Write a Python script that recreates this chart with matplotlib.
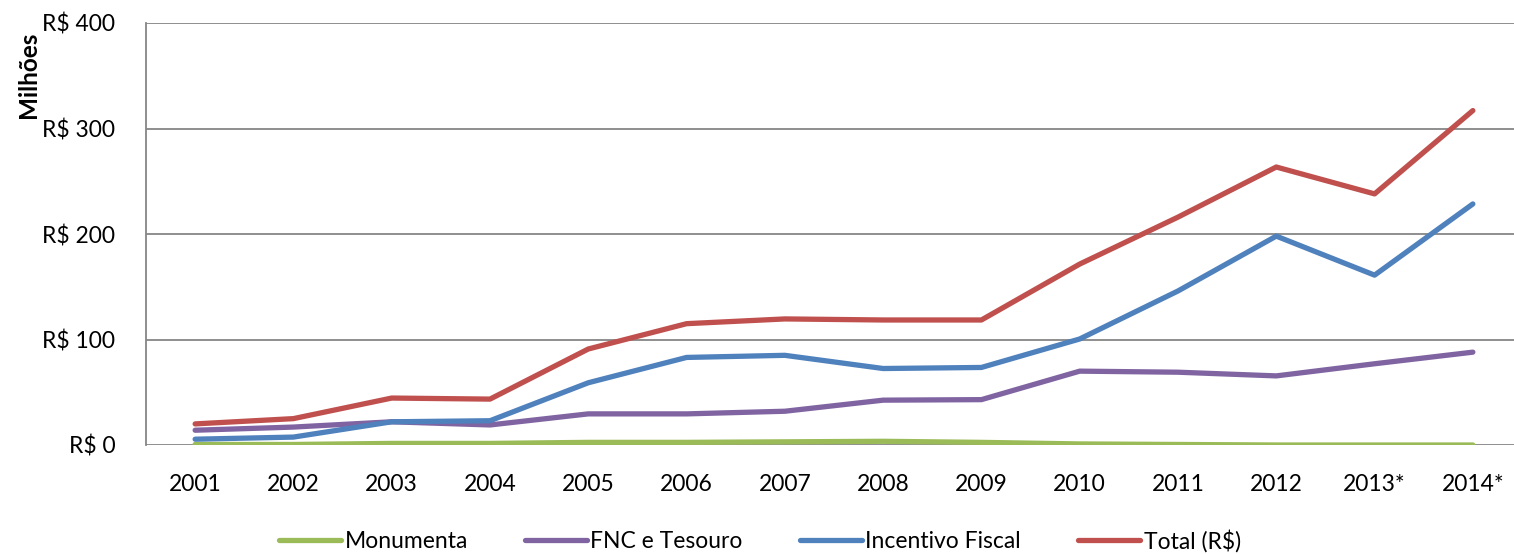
import matplotlib.pyplot as plt

anos = ['2001', '2002', '2003', '2004', '2005', '2006', '2007',
        '2008', '2009', '2010', '2011', '2012', '2013*', '2014*']
monumenta = [0.5, 0.5, 1.5, 1.5, 2.5, 2.5, 3.0, 3.5, 2.5, 1.0, 0.5, 0.0, 0.0, 0.0]
fnc_tesouro = [14, 17, 22, 19, 29.5, 29.5, 32, 42.5, 43, 70, 69, 65.5, 77, 88]
incentivo = [5.5, 7.5, 22, 23, 59, 83, 85, 72.5, 73.5, 100.5, 146, 198, 161, 228.5]
total = [20, 25, 44.5, 43.5, 91, 115, 119.5, 118.5, 118.5, 171.5, 216, 263.5, 238, 317]

plt.rcParams['font.family'] = ['Lato', 'DejaVu Sans']

fig = plt.figure(figsize=(15.14, 5.54), dpi=100)
ax = fig.add_axes([146/1514, 1 - 445/554, 1376/1514, 422/554])

x = range(len(anos))
ax.plot(x, monumenta, color='#9BBB59', lw=3.8, label='Monumenta', solid_capstyle='round')
ax.plot(x, fnc_tesouro, color='#8064A2', lw=3.8, label='FNC e Tesouro', solid_capstyle='round')
ax.plot(x, incentivo, color='#4F81BD', lw=3.8, label='Incentivo Fiscal', solid_capstyle='round')
ax.plot(x, total, color='#C0504D', lw=3.8, label='Total (R$)', solid_capstyle='round')

ax.set_xlim(-0.5, len(anos) - 0.5)
ax.set_ylim(0, 400)
ax.set_yticks([0, 100, 200, 300, 400])
ax.set_yticklabels(['R$ 0', 'R$ 100', 'R$ 200', 'R$ 300', 'R$ 400'], fontsize=16.5)
ax.set_xticks(list(x))
ax.set_xticklabels(anos, fontsize=16.5)
ax.tick_params(axis='both', length=0)
ax.tick_params(axis='y', pad=22)
ax.tick_params(axis='x', pad=21)
ax.yaxis.grid(True, color='#868686', lw=1.3)
ax.set_axisbelow(True)
for s in ['top', 'right', 'bottom']:
    ax.spines[s].set_visible(False)
ax.spines['left'].set_color('#868686')
ax.spines['left'].set_linewidth(1.3)

fig.text(28/1514, 1 - 75/554, 'Milhões', rotation=90, fontsize=17.5, fontweight='bold',
         ha='center', va='center')

fig.legend(loc='center', bbox_to_anchor=(760/1514, 1 - 541/554), ncol=4, frameon=False,
           fontsize=16.5, handlelength=2.7, columnspacing=2.5, handletextpad=0.15)

fig.savefig('out.png', dpi=100)
